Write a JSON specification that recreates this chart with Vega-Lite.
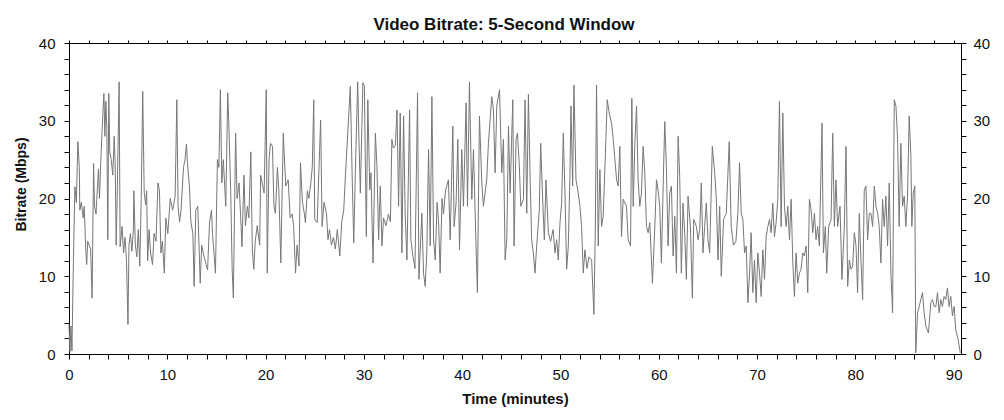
{
  "$schema": "https://vega.github.io/schema/vega-lite/v6.json",
  "width": 892,
  "height": 311,
  "autosize": {"type": "none"},
  "padding": {"left": 69, "top": 43, "right": 43, "bottom": 66},
  "background": "#ffffff",
  "config": {"view": {"stroke": null}},
  "title": {"text": "Video Bitrate: 5-Second Window", "font": "Liberation Sans", "fontSize": 17, "fontWeight": "bold", "color": "#111111", "anchor": "middle", "frame": "group", "dx": -11, "dy": 23, "baseline": "alphabetic", "offset": 12},
  "data": {"values": [
    {"t":0.0,"v":3.8},{"t":0.1,"v":0.3},{"t":0.2,"v":3.6},{"t":0.3,"v":0.4},{"t":0.45,"v":12},{"t":0.6,"v":21.5},{"t":0.75,"v":19.5},{"t":0.9,"v":27.3},{"t":1.05,"v":24},{"t":1.1,"v":18.5},{"t":1.25,"v":19.5},{"t":1.45,"v":17.5},{"t":1.55,"v":19},{"t":1.7,"v":13.5},{"t":1.8,"v":11.5},{"t":1.9,"v":14.5},{"t":2.05,"v":14},{"t":2.2,"v":13.5},{"t":2.35,"v":7.2},{"t":2.5,"v":24.5},{"t":2.6,"v":19},{"t":2.75,"v":18},{"t":2.85,"v":20.5},{"t":3.0,"v":23.8},{"t":3.1,"v":20},{"t":3.25,"v":25.4},{"t":3.45,"v":31},{"t":3.55,"v":33.5},{"t":3.65,"v":28},{"t":3.75,"v":32.5},{"t":3.85,"v":29},{"t":3.95,"v":14.7},{"t":4.05,"v":33.5},{"t":4.15,"v":26},{"t":4.3,"v":25},{"t":4.45,"v":23},{"t":4.6,"v":28},{"t":4.7,"v":24.5},{"t":4.8,"v":14},{"t":4.9,"v":20},{"t":5.1,"v":35},{"t":5.2,"v":13.8},{"t":5.4,"v":16.4},{"t":5.55,"v":13},{"t":5.7,"v":15},{"t":5.85,"v":12},{"t":6.0,"v":3.8},{"t":6.1,"v":14},{"t":6.25,"v":15.5},{"t":6.4,"v":13.2},{"t":6.55,"v":16},{"t":6.6,"v":21},{"t":6.75,"v":14},{"t":6.9,"v":12.5},{"t":7.05,"v":16},{"t":7.2,"v":11.3},{"t":7.35,"v":20},{"t":7.5,"v":33.8},{"t":7.65,"v":20.8},{"t":7.8,"v":19.2},{"t":7.9,"v":21},{"t":8.0,"v":12},{"t":8.15,"v":16},{"t":8.3,"v":13},{"t":8.5,"v":11.5},{"t":8.65,"v":15.5},{"t":8.85,"v":14.5},{"t":9.05,"v":22},{"t":9.2,"v":21},{"t":9.35,"v":13},{"t":9.5,"v":14.5},{"t":9.7,"v":10.4},{"t":9.85,"v":17.5},{"t":10.05,"v":15.5},{"t":10.3,"v":20},{"t":10.55,"v":18.5},{"t":10.8,"v":20.3},{"t":10.97,"v":32.7},{"t":11.1,"v":19},{"t":11.25,"v":17},{"t":11.4,"v":18.5},{"t":11.65,"v":24},{"t":11.8,"v":25},{"t":11.95,"v":27},{"t":12.05,"v":24.5},{"t":12.25,"v":21.6},{"t":12.4,"v":17},{"t":12.6,"v":15.5},{"t":12.73,"v":8.7},{"t":12.9,"v":18.5},{"t":13.1,"v":19},{"t":13.35,"v":9.1},{"t":13.5,"v":14},{"t":13.75,"v":12.5},{"t":13.95,"v":11.5},{"t":14.1,"v":10.8},{"t":14.3,"v":17},{"t":14.5,"v":18.5},{"t":14.6,"v":15.5},{"t":14.9,"v":10.4},{"t":15.1,"v":25},{"t":15.25,"v":24},{"t":15.4,"v":34},{"t":15.55,"v":22},{"t":15.7,"v":25},{"t":15.95,"v":19},{"t":16.15,"v":33.6},{"t":16.25,"v":30},{"t":16.45,"v":21},{"t":16.6,"v":10.9},{"t":16.72,"v":7.2},{"t":16.95,"v":28.4},{"t":17.1,"v":20},{"t":17.3,"v":22},{"t":17.45,"v":18},{"t":17.6,"v":13.8},{"t":17.8,"v":23},{"t":17.95,"v":16.5},{"t":18.15,"v":19},{"t":18.3,"v":17.5},{"t":18.5,"v":26},{"t":18.65,"v":13.4},{"t":18.8,"v":10.9},{"t":18.95,"v":14.5},{"t":19.15,"v":16.5},{"t":19.4,"v":14},{"t":19.5,"v":23},{"t":19.65,"v":22},{"t":19.85,"v":20.7},{"t":20.07,"v":34},{"t":20.17,"v":10.4},{"t":20.35,"v":25},{"t":20.5,"v":27.1},{"t":20.7,"v":26.7},{"t":20.85,"v":19},{"t":21.0,"v":18.1},{"t":21.2,"v":24},{"t":21.35,"v":21},{"t":21.55,"v":11.7},{"t":21.8,"v":28.4},{"t":22.05,"v":21.6},{"t":22.3,"v":22.4},
    {"t":22.5,"v":17.5},{"t":22.7,"v":18},{"t":22.85,"v":16.5},{"t":23.05,"v":10.4},{"t":23.2,"v":14},{"t":23.4,"v":11.3},{"t":23.55,"v":24.6},{"t":23.75,"v":19.5},{"t":23.95,"v":18},{"t":24.05,"v":16.9},{"t":24.25,"v":21},{"t":24.4,"v":20},{"t":24.6,"v":22},{"t":24.75,"v":24},{"t":24.9,"v":32.7},{"t":25.0,"v":17.3},{"t":25.25,"v":16.9},{"t":25.6,"v":30.1},{"t":25.75,"v":16.4},{"t":25.95,"v":19.5},{"t":26.2,"v":18},{"t":26.35,"v":14.7},{"t":26.5,"v":16},{"t":26.7,"v":14},{"t":26.9,"v":15},{"t":27.1,"v":13.5},{"t":27.3,"v":16},{"t":27.55,"v":12.6},{"t":27.75,"v":17},{"t":27.95,"v":18.5},{"t":28.1,"v":22.4},{"t":28.62,"v":34.4},{"t":28.8,"v":23.3},{"t":28.97,"v":14.3},{"t":29.13,"v":23.3},{"t":29.37,"v":35},{"t":29.5,"v":27.6},{"t":29.64,"v":20.7},{"t":29.9,"v":34.9},{"t":30.05,"v":34.5},{"t":30.25,"v":15.1},{"t":30.4,"v":32.7},{"t":30.6,"v":21.1},{"t":30.72,"v":23.3},{"t":30.93,"v":11.7},{"t":31.17,"v":28.4},{"t":31.33,"v":24.1},{"t":31.5,"v":14.7},{"t":31.67,"v":21.6},{"t":31.84,"v":13.9},{"t":32.0,"v":17.5},{"t":32.25,"v":16.5},{"t":32.5,"v":18},{"t":32.7,"v":17},{"t":32.85,"v":27.6},{"t":33.0,"v":26.5},{"t":33.2,"v":26.8},{"t":33.37,"v":31.4},{"t":33.53,"v":19},{"t":33.7,"v":31},{"t":33.87,"v":13},{"t":34.04,"v":30.6},{"t":34.2,"v":18.1},{"t":34.38,"v":12.1},{"t":34.65,"v":31.4},{"t":34.78,"v":14.7},{"t":35.0,"v":12.5},{"t":35.2,"v":11},{"t":35.46,"v":33.6},{"t":35.6,"v":9.6},{"t":35.9,"v":18.1},{"t":36.07,"v":10.4},{"t":36.24,"v":8.7},{"t":36.4,"v":13},{"t":36.58,"v":26.3},{"t":36.75,"v":13.9},{"t":36.92,"v":33.1},{"t":37.09,"v":14.7},{"t":37.26,"v":12.1},{"t":37.45,"v":19.5},{"t":37.6,"v":17},{"t":37.76,"v":10.4},{"t":37.95,"v":20},{"t":38.1,"v":18},{"t":38.3,"v":21},{"t":38.6,"v":22.4},{"t":38.78,"v":14.7},{"t":39.05,"v":29.3},{"t":39.18,"v":16.4},{"t":39.38,"v":19.4},{"t":39.56,"v":27.6},{"t":39.73,"v":13.4},{"t":39.96,"v":26.3},{"t":40.13,"v":19},{"t":40.4,"v":32.3},{"t":40.54,"v":19},{"t":40.74,"v":35},{"t":40.98,"v":19.9},{"t":41.15,"v":26.3},{"t":41.32,"v":18.1},{"t":41.55,"v":7.9},{"t":41.76,"v":30.6},{"t":42.0,"v":22},{"t":42.16,"v":19},{"t":42.5,"v":22.4},{"t":42.67,"v":27.1},{"t":43.01,"v":33.1},{"t":43.18,"v":31.4},{"t":43.35,"v":23.3},{"t":43.52,"v":31.9},{"t":43.8,"v":34},
    {"t":44.03,"v":23.3},{"t":44.2,"v":27.6},{"t":44.37,"v":12.1},{"t":44.54,"v":14.7},{"t":44.71,"v":29.3},{"t":44.88,"v":20.7},{"t":45.15,"v":32.7},{"t":45.28,"v":13.9},{"t":45.48,"v":27.6},{"t":45.62,"v":28.4},{"t":45.82,"v":24.1},{"t":45.96,"v":19},{"t":46.23,"v":19.9},{"t":46.4,"v":32.7},{"t":46.57,"v":18.1},{"t":46.74,"v":33.4},{"t":46.9,"v":23.3},{"t":47.07,"v":14.7},{"t":47.24,"v":13},{"t":47.41,"v":10.4},{"t":47.58,"v":13.9},{"t":47.85,"v":18.6},{"t":47.99,"v":27.1},{"t":48.19,"v":19.9},{"t":48.36,"v":14.7},{"t":48.53,"v":22.4},{"t":48.77,"v":15.6},{"t":49.0,"v":14.5},{"t":49.25,"v":16},{"t":49.44,"v":13},{"t":49.61,"v":14.7},{"t":49.78,"v":12.1},{"t":49.95,"v":16.9},{"t":50.12,"v":19.4},{"t":50.29,"v":28.4},{"t":50.46,"v":20.7},{"t":50.63,"v":10.9},{"t":50.8,"v":13.9},{"t":50.97,"v":23.3},{"t":51.07,"v":31.9},{"t":51.24,"v":21.6},{"t":51.37,"v":34.6},{"t":51.58,"v":22.4},{"t":51.81,"v":20.7},{"t":51.98,"v":19},{"t":52.15,"v":16.4},{"t":52.32,"v":10.4},{"t":52.49,"v":13.4},{"t":52.7,"v":11},{"t":52.9,"v":12.5},{"t":53.17,"v":12.1},{"t":53.4,"v":5.1},{"t":53.54,"v":15.6},{"t":53.67,"v":34.6},{"t":53.84,"v":13.9},{"t":54.01,"v":23.7},{"t":54.18,"v":16.4},{"t":54.35,"v":17.7},{"t":54.62,"v":27.6},{"t":54.76,"v":32.7},{"t":54.96,"v":31},{"t":55.2,"v":29.7},{"t":55.37,"v":27.6},{"t":55.54,"v":25},{"t":55.71,"v":22.4},{"t":55.87,"v":21.6},{"t":56.04,"v":26.7},{"t":56.21,"v":15.1},{"t":56.38,"v":19.9},{"t":56.72,"v":19},{"t":56.89,"v":14.7},{"t":57.13,"v":13.9},{"t":57.26,"v":32.9},{"t":57.4,"v":19},{"t":57.57,"v":27.1},{"t":57.74,"v":31.9},{"t":57.9,"v":22.4},{"t":58.07,"v":19},{"t":58.24,"v":20.7},{"t":58.41,"v":26.7},{"t":58.58,"v":23.3},{"t":58.75,"v":16.4},{"t":58.92,"v":15.6},{"t":59.09,"v":16.9},{"t":59.36,"v":9.1},{"t":59.6,"v":16.4},{"t":59.77,"v":22.4},{"t":59.93,"v":21.1},{"t":60.1,"v":19},{"t":60.27,"v":11.7},{"t":60.44,"v":21.1},{"t":60.61,"v":29.9},{"t":60.78,"v":24.1},{"t":60.95,"v":13.9},{"t":61.12,"v":20.7},{"t":61.29,"v":21.6},{"t":61.46,"v":12.6},{"t":61.63,"v":17.7},{"t":61.8,"v":10.4},{"t":61.97,"v":28},{"t":62.13,"v":22.8},{"t":62.3,"v":10.4},{"t":62.47,"v":19.4},{"t":62.64,"v":15.6},{"t":62.81,"v":9.6},{"t":62.98,"v":20.3},{"t":63.22,"v":16.4},{"t":63.42,"v":7.2},{"t":63.56,"v":17.3},{"t":63.83,"v":16.4},{"t":64.0,"v":14.7},{"t":64.17,"v":16},{"t":64.33,"v":22},{"t":64.5,"v":13},{"t":64.67,"v":16.4},{"t":64.84,"v":19.4},{"t":65.01,"v":14.7},{"t":65.18,"v":13},{"t":65.45,"v":26.7},{"t":65.69,"v":23.3},{"t":65.86,"v":19.9},{"t":66.03,"v":12.1},{"t":66.2,"v":19},{"t":66.36,"v":10},{"t":66.6,"v":17.3},{"t":66.87,"v":18.1},{"t":67.17,"v":27.3},
    {"t":67.37,"v":16.4},{"t":67.6,"v":14},{"t":67.85,"v":14.5},{"t":68.05,"v":18.1},{"t":68.22,"v":24.6},{"t":68.39,"v":18.1},{"t":68.56,"v":17.3},{"t":68.73,"v":13},{"t":68.9,"v":13.9},{"t":69.07,"v":6.6},{"t":69.24,"v":10.4},{"t":69.4,"v":15.6},{"t":69.57,"v":7.9},{"t":69.74,"v":12.1},{"t":69.91,"v":6.6},{"t":70.08,"v":13},{"t":70.25,"v":10.4},{"t":70.42,"v":7.4},{"t":70.59,"v":13.4},{"t":70.76,"v":9.6},{"t":70.93,"v":15.1},{"t":71.1,"v":16.4},{"t":71.27,"v":17.3},{"t":71.43,"v":15.6},{"t":71.6,"v":19.4},{"t":71.77,"v":15.1},{"t":71.94,"v":16.9},{"t":72.11,"v":19.9},{"t":72.28,"v":32.5},{"t":72.45,"v":16.4},{"t":72.62,"v":31},{"t":72.79,"v":19},{"t":72.96,"v":16.4},{"t":73.13,"v":19},{"t":73.3,"v":14.7},{"t":73.47,"v":19.9},{"t":73.63,"v":12.1},{"t":73.8,"v":7.4},{"t":73.97,"v":13},{"t":74.14,"v":9.1},{"t":74.31,"v":10.4},{"t":74.48,"v":10.9},{"t":74.65,"v":13},{"t":74.82,"v":12.6},{"t":74.99,"v":13.9},{"t":75.16,"v":7.9},{"t":75.33,"v":19.9},{"t":75.5,"v":18.6},{"t":75.67,"v":15.6},{"t":75.84,"v":18.1},{"t":76.0,"v":14.7},{"t":76.17,"v":16.4},{"t":76.34,"v":13.9},{"t":76.61,"v":29.7},{"t":76.75,"v":13},{"t":76.95,"v":16.4},{"t":77.09,"v":10.4},{"t":77.29,"v":16.4},{"t":77.53,"v":17.3},{"t":77.7,"v":28.4},{"t":77.87,"v":16.4},{"t":78.03,"v":22.4},{"t":78.2,"v":16.4},{"t":78.44,"v":19},{"t":78.64,"v":9.6},{"t":78.88,"v":16.4},{"t":79.05,"v":26.7},{"t":79.22,"v":8.7},{"t":79.39,"v":12.1},{"t":79.56,"v":10.9},{"t":79.73,"v":11.3},{"t":79.9,"v":15.6},{"t":80.07,"v":13.9},{"t":80.23,"v":7.9},{"t":80.4,"v":18.1},{"t":80.57,"v":12.1},{"t":80.74,"v":7},{"t":80.91,"v":21.1},{"t":81.08,"v":21.6},{"t":81.25,"v":14.7},{"t":81.42,"v":18.1},{"t":81.59,"v":18.1},{"t":81.76,"v":16.4},{"t":81.93,"v":21.6},{"t":82.1,"v":19},{"t":82.27,"v":18.1},{"t":82.43,"v":16.4},{"t":82.6,"v":11.7},{"t":82.77,"v":19.9},{"t":82.94,"v":16.4},{"t":83.11,"v":20.3},{"t":83.28,"v":13.9},{"t":83.45,"v":22},{"t":83.62,"v":10.4},{"t":83.79,"v":5.3},{"t":83.96,"v":32.7},{"t":84.13,"v":31.9},{"t":84.3,"v":27.6},{"t":84.46,"v":16.4},{"t":84.63,"v":27.1},{"t":84.8,"v":19},{"t":84.97,"v":20.3},{"t":85.14,"v":16.4},{"t":85.31,"v":20.3},{"t":85.48,"v":30.6},{"t":85.65,"v":25.4},{"t":85.75,"v":16.4},{"t":85.89,"v":20.7},{"t":86.05,"v":21.6},{"t":86.15,"v":0.15},{"t":86.33,"v":5.3},{"t":86.5,"v":6.1},{"t":86.66,"v":7},{"t":86.83,"v":7.9},{"t":87.0,"v":5.3},{"t":87.17,"v":3.6},{"t":87.44,"v":2.7},{"t":87.68,"v":6.6},{"t":87.85,"v":7},{"t":88.02,"v":6.1},{"t":88.19,"v":6.1},{"t":88.36,"v":7.9},{"t":88.53,"v":5.3},{"t":88.69,"v":7},{"t":88.86,"v":6.1},{"t":89.03,"v":7.4},{"t":89.2,"v":7},{"t":89.37,"v":8.5},{"t":89.54,"v":6.1},{"t":89.71,"v":7.4},{"t":89.88,"v":4.9},{"t":90.05,"v":6.1},{"t":90.22,"v":3.1},{"t":90.45,"v":1.9},{"t":90.68,"v":0.15}
  ]},
  "layer": [
    {
      "mark": {"type": "line", "color": "#777777", "strokeWidth": 1, "interpolate": "linear"},
      "encoding": {
        "x": {"field": "t", "type": "quantitative", "scale": {"domain": [0, 90.75], "nice": false, "zero": false},
          "axis": {"orient": "bottom", "title": "Time (minutes)", "values": [0,2,4,6,8,10,12,14,16,18,20,22,24,26,28,30,32,34,36,38,40,42,44,46,48,50,52,54,56,58,60,62,64,66,68,70,72,74,76,78,80,82,84,86,88,90],
            "labelExpr": "datum.value % 10 === 0 ? datum.label : ''", "grid": false, "domainColor": "#000000", "tickColor": "#000000", "tickSize": 5, "labelPadding": 8,
            "labelFont": "Liberation Sans", "labelFontSize": 15, "labelColor": "#111111", "labelFlush": false, "labelOverlap": false, "labelBound": false,
            "titleFont": "Liberation Sans", "titleFontSize": 15, "titleFontWeight": "bold", "titleColor": "#111111", "titleX": 446, "titleY": 44, "titleBaseline": "middle", "titleAlign": "center",
            "encode": {"ticks": {"update": {"y": {"condition": {"test": "datum.value % 10 === 0", "value": -5}, "value": 0}, "y2": {"condition": {"test": "datum.value % 10 === 0", "value": 5}, "value": 3}}}}}},
        "y": {"field": "v", "type": "quantitative", "scale": {"domain": [0, 40], "nice": false, "zero": false},
          "axis": {"orient": "left", "title": "Bitrate (Mbps)", "values": [0,2,4,6,8,10,12,14,16,18,20,22,24,26,28,30,32,34,36,38,40],
            "labelExpr": "datum.value % 10 === 0 ? datum.label : ''", "grid": false, "domainColor": "#000000", "tickColor": "#000000", "tickSize": 5, "labelPadding": 9,
            "labelFont": "Liberation Sans", "labelFontSize": 15, "labelColor": "#111111", "labelFlush": false, "labelOverlap": false, "labelBound": false,
            "titleFont": "Liberation Sans", "titleFontSize": 14, "titleFontWeight": "bold", "titleColor": "#111111", "titleX": -47.5, "titleY": 141, "titleBaseline": "middle", "titleAlign": "center", "titleAngle": -90,
            "encode": {"ticks": {"update": {"x": {"condition": {"test": "datum.value % 10 === 0", "value": 6}, "value": 2}, "x2": {"condition": {"test": "datum.value % 10 === 0", "value": -4}, "value": -3}}}}}}
      }
    },
    {
      "mark": {"type": "line", "strokeOpacity": 0, "opacity": 0},
      "encoding": {
        "x": {"field": "t", "type": "quantitative", "scale": {"domain": [0, 90.75], "nice": false, "zero": false},
          "axis": {"orient": "top", "title": null, "values": [0,2,4,6,8,10,12,14,16,18,20,22,24,26,28,30,32,34,36,38,40,42,44,46,48,50,52,54,56,58,60,62,64,66,68,70,72,74,76,78,80,82,84,86,88,90],
            "labels": false, "grid": false, "domainColor": "#000000", "tickColor": "#000000", "tickSize": 3,
            "encode": {"ticks": {"update": {"y": {"condition": {"test": "datum.value % 10 === 0", "value": 7}, "value": 0}, "y2": {"condition": {"test": "datum.value % 10 === 0", "value": -2}, "value": -3}}}}}},
        "y": {"field": "v", "type": "quantitative", "scale": {"domain": [0, 40], "nice": false, "zero": false},
          "axis": {"orient": "right", "title": null, "values": [0,2,4,6,8,10,12,14,16,18,20,22,24,26,28,30,32,34,36,38,40],
            "labelExpr": "datum.value % 10 === 0 ? datum.label : ''", "grid": false, "domainColor": "#000000", "tickColor": "#000000", "tickSize": 5, "labelPadding": 7,
            "labelFont": "Liberation Sans", "labelFontSize": 15, "labelColor": "#111111", "labelFlush": false, "labelOverlap": false, "labelBound": false,
            "encode": {"ticks": {"update": {"x": {"condition": {"test": "datum.value % 10 === 0", "value": -6}, "value": -3}, "x2": {"condition": {"test": "datum.value % 10 === 0", "value": 6}, "value": 3}}}}}}
      }
    }
  ],
  "resolve": {"axis": {"x": "independent", "y": "independent"}}
}
